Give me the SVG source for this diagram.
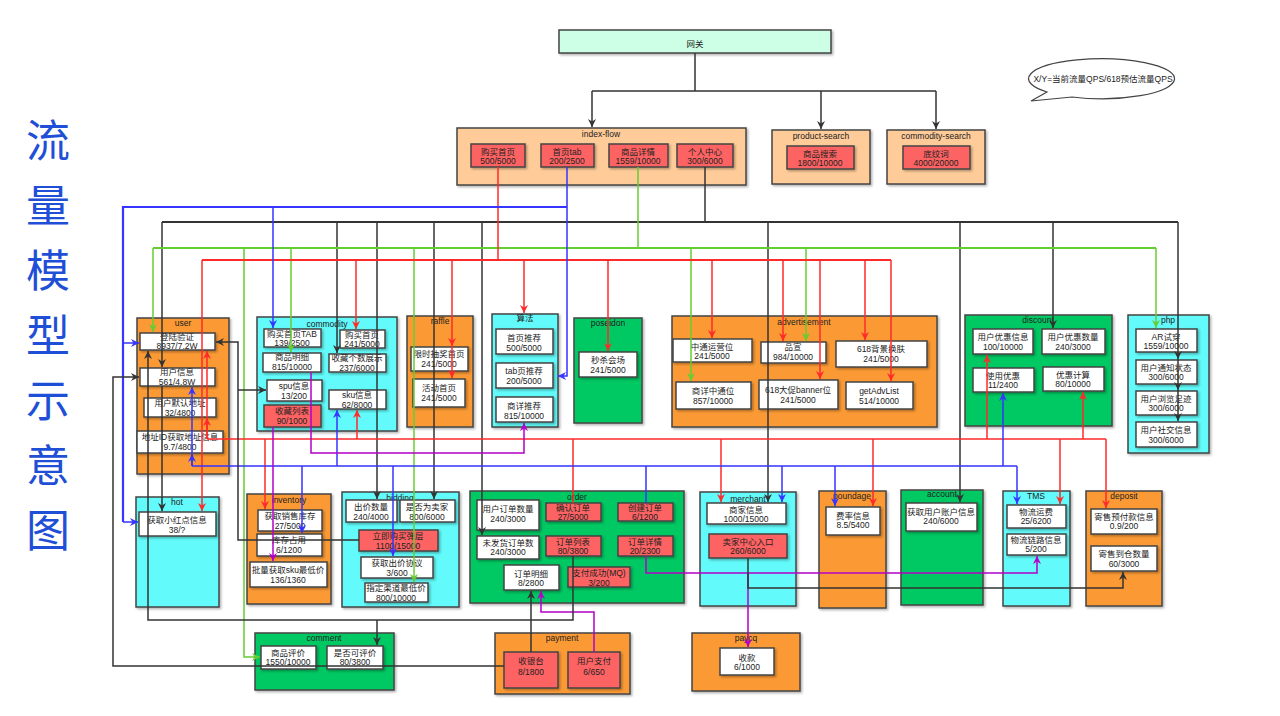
<svg xmlns="http://www.w3.org/2000/svg" width="1280" height="716" viewBox="0 0 1280 716">
<defs>
<style>
text{font-family:"Liberation Sans","Noto Sans CJK SC",sans-serif;fill:#222;text-anchor:middle}
.t{font-size:8.5px}
.lb{font-size:8.5px}
.title{font-family:"Noto Sans CJK SC",sans-serif;font-size:44px;fill:#1f4fd6}
.box{stroke:#444;stroke-width:1.5;filter:url(#sh)}
.peach{fill:#ffcc99}.orange{fill:#fb9a34}.cyan{fill:#62fafa}.green{fill:#06c864}.mint{fill:#ccffe6}
.w{fill:#fff}.red{fill:#fd6464}
.e{fill:none;stroke-width:1.5}
.trunk{stroke-width:2.2}
.k{stroke:#333}.r{stroke:#ff2a2a}.b{stroke:#3535ff}.g{stroke:#66cc33}.p{stroke:#b400c8}
</style>
<filter id="sh" x="-10%" y="-10%" width="130%" height="130%">
<feDropShadow dx="1.5" dy="1.5" stdDeviation="0.8" flood-color="#000" flood-opacity="0.3"/>
</filter>
<marker id="ak" viewBox="0 0 8 8" refX="8" refY="4" markerWidth="8" markerHeight="8" markerUnits="userSpaceOnUse" orient="auto"><path d="M0,0 L8,4 L0,8 L2.5,4 Z" fill="#333"/></marker>
<marker id="ar" viewBox="0 0 8 8" refX="8" refY="4" markerWidth="8" markerHeight="8" markerUnits="userSpaceOnUse" orient="auto"><path d="M0,0 L8,4 L0,8 L2.5,4 Z" fill="#ff2a2a"/></marker>
<marker id="ab" viewBox="0 0 8 8" refX="8" refY="4" markerWidth="8" markerHeight="8" markerUnits="userSpaceOnUse" orient="auto"><path d="M0,0 L8,4 L0,8 L2.5,4 Z" fill="#3535ff"/></marker>
<marker id="ag" viewBox="0 0 8 8" refX="8" refY="4" markerWidth="8" markerHeight="8" markerUnits="userSpaceOnUse" orient="auto"><path d="M0,0 L8,4 L0,8 L2.5,4 Z" fill="#66cc33"/></marker>
<marker id="ap" viewBox="0 0 8 8" refX="8" refY="4" markerWidth="8" markerHeight="8" markerUnits="userSpaceOnUse" orient="auto"><path d="M0,0 L8,4 L0,8 L2.5,4 Z" fill="#b400c8"/></marker>
</defs>
<rect width="1280" height="716" fill="#fff"/>

<!-- vertical title -->
<text class="title" x="48"><tspan x="48" y="157">流</tspan><tspan x="48" y="222">量</tspan><tspan x="48" y="287">模</tspan><tspan x="48" y="352">型</tspan><tspan x="48" y="417">示</tspan><tspan x="48" y="482">意</tspan><tspan x="48" y="547">图</tspan></text>

<!-- legend bubble -->
<g id="legend">
<path d="M1047,92 L1031,101 L1072,97 A73,20 0 1 0 1047,92 Z" fill="#fff" stroke="#444" stroke-width="1.2"/>
<text class="t" x="1103" y="82">X/Y=当前流量QPS/618预估流量QPS</text>
</g>

<g id="gateway"><rect class="box mint" x="559" y="30" width="272" height="23"/><text class="t" x="695" y="47">网关</text></g>

<g id="index-flow"><rect class="box peach" x="457" y="128" width="289" height="57"/><text class="lb" x="601" y="137">index-flow</text>
<rect class="box red" x="471" y="144" width="54" height="23"/><text class="t" x="498" y="155">购买首页</text><text class="t" x="498" y="164">500/5000</text>
<rect class="box red" x="541" y="144" width="53" height="23"/><text class="t" x="567" y="155">首页tab</text><text class="t" x="567" y="164">200/2500</text>
<rect class="box red" x="609" y="144" width="59" height="23"/><text class="t" x="638" y="155">商品详情</text><text class="t" x="638" y="164">1559/10000</text>
<rect class="box red" x="677" y="144" width="56" height="23"/><text class="t" x="705" y="155">个人中心</text><text class="t" x="705" y="164">300/6000</text>
</g>
<g id="product-search"><rect class="box peach" x="772" y="130" width="98" height="54"/><text class="lb" x="821" y="139">product-search</text>
<rect class="box red" x="787" y="146" width="67" height="23"/><text class="t" x="820" y="157">商品搜索</text><text class="t" x="820" y="166">1800/10000</text></g>
<g id="commodity-search"><rect class="box peach" x="887" y="130" width="98" height="54"/><text class="lb" x="936" y="139">commodity-search</text>
<rect class="box red" x="903" y="146" width="67" height="23"/><text class="t" x="936" y="157">底纹词</text><text class="t" x="936" y="166">4000/20000</text></g>

<g id="user"><rect class="box orange" x="137" y="318" width="92" height="156"/><text class="lb" x="183" y="326">user</text>
<rect class="box w" x="140" y="333" width="75" height="17"/><text class="t" x="177" y="340">登陆验证</text><text class="t" x="177" y="349">8937/7.2W</text>
<rect class="box w" x="140" y="368" width="75" height="18"/><text class="t" x="177" y="375">用户信息</text><text class="t" x="177" y="385">561/4.8W</text>
<rect class="box w" x="144" y="398" width="72" height="19"/><text class="t" x="180" y="406">用户默认地址</text><text class="t" x="180" y="416">32/4800</text>
<rect class="box w" x="137" y="431" width="86" height="22"/><text class="t" x="180" y="440">地址ID获取地址信息</text><text class="t" x="180" y="450">9.7/4800</text>
</g>
<g id="hot"><rect class="box cyan" x="136" y="497" width="83" height="110"/><text class="lb" x="177" y="505">hot</text>
<rect class="box w" x="139" y="512" width="77" height="24"/><text class="t" x="177" y="523">获取小红点信息</text><text class="t" x="177" y="533">38/?</text></g>

<g id="commodity"><rect class="box cyan" x="257" y="317" width="140" height="114"/><text class="lb" x="327" y="327">commodity</text>
<rect class="box w" x="264" y="329" width="57" height="18"/><text class="t" x="292" y="337">购买首页TAB</text><text class="t" x="292" y="346">139/2500</text>
<rect class="box w" x="340" y="330" width="45" height="18"/><text class="t" x="362" y="338">购买首页</text><text class="t" x="362" y="347">241/5000</text>
<rect class="box w" x="263" y="353" width="58" height="19"/><text class="t" x="292" y="360">商品明细</text><text class="t" x="292" y="370">815/10000</text>
<rect class="box w" x="329" y="354" width="57" height="18"/><text class="t" x="357" y="361">收藏个数展示</text><text class="t" x="357" y="371">237/6000</text>
<rect class="box w" x="267" y="380" width="55" height="21"/><text class="t" x="294" y="389">spu信息</text><text class="t" x="294" y="399">13/200</text>
<rect class="box w" x="329" y="390" width="57" height="19"/><text class="t" x="357" y="398">sku信息</text><text class="t" x="357" y="408">62/8000</text>
<rect class="box red" x="264" y="405" width="57" height="22"/><text class="t" x="292" y="414">收藏列表</text><text class="t" x="292" y="424">90/1000</text>
</g>
<g id="raffle"><rect class="box orange" x="407" y="316" width="66" height="111"/><text class="lb" x="440" y="324">raffle</text>
<rect class="box w" x="411" y="347" width="57" height="24"/><text class="t" x="439" y="357">限时抽奖首页</text><text class="t" x="439" y="367">241/5000</text>
<rect class="box w" x="413" y="379" width="52" height="28"/><text class="t" x="439" y="391">活动首页</text><text class="t" x="439" y="401">241/5000</text></g>
<g id="algorithm"><rect class="box cyan" x="492" y="314" width="66" height="113"/><text class="lb" x="525" y="321">算法</text>
<rect class="box w" x="496" y="329" width="57" height="25"/><text class="t" x="524" y="341">首页推荐</text><text class="t" x="524" y="351">500/5000</text>
<rect class="box w" x="496" y="363" width="57" height="25"/><text class="t" x="524" y="374">tab页推荐</text><text class="t" x="524" y="384">200/5000</text>
<rect class="box w" x="496" y="397" width="57" height="25"/><text class="t" x="524" y="409">商详推荐</text><text class="t" x="524" y="419">815/10000</text></g>
<g id="poseidon"><rect class="box green" x="574" y="318" width="68" height="105"/><text class="lb" x="608" y="326">poseidon</text>
<rect class="box w" x="579" y="352" width="58" height="25"/><text class="t" x="608" y="363">秒杀会场</text><text class="t" x="608" y="373">241/5000</text></g>
<g id="advertisement"><rect class="box orange" x="672" y="316" width="265" height="111"/><text class="lb" x="804" y="325">advertisement</text>
<rect class="box w" x="673" y="339" width="79" height="23"/><text class="t" x="712" y="350">中通运营位</text><text class="t" x="712" y="359">241/5000</text>
<rect class="box w" x="761" y="342" width="65" height="21"/><text class="t" x="793" y="350">品宣</text><text class="t" x="793" y="360">984/10000</text>
<rect class="box w" x="836" y="341" width="91" height="26"/><text class="t" x="881" y="352">618背景换肤</text><text class="t" x="881" y="362">241/5000</text>
<rect class="box w" x="676" y="382" width="75" height="27"/><text class="t" x="713" y="394">商详中通位</text><text class="t" x="713" y="404">857/10000</text>
<rect class="box w" x="759" y="380" width="79" height="29"/><text class="t" x="798" y="393">618大促banner位</text><text class="t" x="798" y="403">241/5000</text>
<rect class="box w" x="846" y="382" width="67" height="27"/><text class="t" x="879" y="394">getAdvList</text><text class="t" x="879" y="404">514/10000</text></g>
<g id="discount"><rect class="box green" x="965" y="315" width="147" height="111"/><text class="lb" x="1038" y="323">discount</text>
<rect class="box w" x="973" y="329" width="60" height="25"/><text class="t" x="1003" y="340">用户优惠信息</text><text class="t" x="1003" y="350">100/10000</text>
<rect class="box w" x="1042" y="329" width="63" height="25"/><text class="t" x="1073" y="340">用户优惠数量</text><text class="t" x="1073" y="350">240/3000</text>
<rect class="box w" x="973" y="368" width="61" height="24"/><text class="t" x="1003" y="379">使用优惠</text><text class="t" x="1003" y="388">11/2400</text>
<rect class="box w" x="1043" y="367" width="61" height="24"/><text class="t" x="1073" y="378">优惠计算</text><text class="t" x="1073" y="387">80/10000</text></g>
<g id="php"><rect class="box cyan" x="1128" y="315" width="81" height="138"/><text class="lb" x="1168" y="323">php</text>
<rect class="box w" x="1136" y="329" width="61" height="23"/><text class="t" x="1166" y="340">AR试穿</text><text class="t" x="1166" y="349">1559/10000</text>
<rect class="box w" x="1136" y="360" width="61" height="24"/><text class="t" x="1166" y="371">用户通知状态</text><text class="t" x="1166" y="380">300/6000</text>
<rect class="box w" x="1136" y="391" width="61" height="24"/><text class="t" x="1166" y="402">用户浏览足迹</text><text class="t" x="1166" y="411">300/6000</text>
<rect class="box w" x="1136" y="422" width="61" height="25"/><text class="t" x="1166" y="433">用户社交信息</text><text class="t" x="1166" y="443">300/6000</text></g>

<g id="inventory"><rect class="box orange" x="247" y="494" width="84" height="110"/><text class="lb" x="289" y="503">inventory</text>
<rect class="box w" x="258" y="510" width="64" height="21"/><text class="t" x="290" y="519">获取销售库存</text><text class="t" x="290" y="529">27/5000</text>
<rect class="box w" x="257" y="534" width="65" height="22"/><text class="t" x="289" y="543">库存占用</text><text class="t" x="289" y="553">6/1200</text>
<rect class="box w" x="250" y="562" width="77" height="25"/><text class="t" x="288" y="573">批量获取sku最低价</text><text class="t" x="288" y="583">136/1360</text></g>
<g id="bidding"><rect class="box cyan" x="342" y="492" width="117" height="115"/><text class="lb" x="400" y="501">bidding</text>
<rect class="box w" x="346" y="500" width="51" height="22"/><text class="t" x="371" y="510">出价数量</text><text class="t" x="371" y="520">240/4000</text>
<rect class="box w" x="400" y="500" width="55" height="22"/><text class="t" x="427" y="510">是否为卖家</text><text class="t" x="427" y="520">800/6000</text>
<rect class="box red" x="359" y="530" width="79" height="21"/><text class="t" x="398" y="539">立即购买弹层</text><text class="t" x="398" y="549">1100/15000</text>
<rect class="box w" x="361" y="557" width="72" height="21"/><text class="t" x="397" y="566">获取出价协议</text><text class="t" x="397" y="576">3/600</text>
<rect class="box w" x="365" y="583" width="63" height="19"/><text class="t" x="396" y="591">指定渠道最低价</text><text class="t" x="396" y="601">800/10000</text></g>
<g id="order"><rect class="box green" x="470" y="491" width="214" height="112"/><text class="lb" x="577" y="500">order</text>
<rect class="box w" x="477" y="500" width="62" height="30"/><text class="t" x="508" y="512">用户订单数量</text><text class="t" x="508" y="522">240/3000</text>
<rect class="box red" x="546" y="503" width="55" height="18"/><text class="t" x="573" y="511">确认订单</text><text class="t" x="573" y="520">27/5000</text>
<rect class="box red" x="618" y="503" width="55" height="18"/><text class="t" x="645" y="511">创建订单</text><text class="t" x="645" y="520">6/1200</text>
<rect class="box w" x="477" y="536" width="62" height="23"/><text class="t" x="508" y="546">未发货订单数</text><text class="t" x="508" y="555">240/3000</text>
<rect class="box red" x="546" y="536" width="55" height="20"/><text class="t" x="573" y="545">订单列表</text><text class="t" x="573" y="554">80/3800</text>
<rect class="box red" x="618" y="536" width="55" height="20"/><text class="t" x="645" y="545">订单详情</text><text class="t" x="645" y="554">20/2300</text>
<rect class="box w" x="504" y="565" width="55" height="25"/><text class="t" x="531" y="577">订单明细</text><text class="t" x="531" y="586">8/2800</text>
<rect class="box red" x="568" y="567" width="62" height="20"/><text class="t" x="599" y="576">支付成功(MQ)</text><text class="t" x="599" y="586">3/200</text></g>
<g id="merchant"><rect class="box cyan" x="700" y="492" width="96" height="114"/><text class="lb" x="748" y="502">merchant</text>
<rect class="box w" x="707" y="503" width="79" height="21"/><text class="t" x="746" y="513">商家信息</text><text class="t" x="746" y="522">1000/15000</text>
<rect class="box red" x="709" y="534" width="78" height="24"/><text class="t" x="748" y="545">卖家中心入口</text><text class="t" x="748" y="554">260/6000</text></g>
<g id="poundage"><rect class="box orange" x="819" y="491" width="67" height="117"/><text class="lb" x="852" y="499">poundage</text>
<rect class="box w" x="826" y="507" width="54" height="28"/><text class="t" x="853" y="519">费率信息</text><text class="t" x="853" y="528">8.5/5400</text></g>
<g id="account"><rect class="box green" x="901" y="490" width="82" height="115"/><text class="lb" x="942" y="497">account</text>
<rect class="box w" x="906" y="503" width="71" height="28"/><text class="t" x="941" y="515">获取用户账户信息</text><text class="t" x="941" y="524">240/6000</text></g>
<g id="tms"><rect class="box cyan" x="1003" y="491" width="67" height="115"/><text class="lb" x="1036" y="499">TMS</text>
<rect class="box w" x="1007" y="505" width="59" height="23"/><text class="t" x="1036" y="515">物流运费</text><text class="t" x="1036" y="524">25/6200</text>
<rect class="box w" x="1007" y="534" width="59" height="21"/><text class="t" x="1036" y="543">物流链路信息</text><text class="t" x="1036" y="552">5/200</text></g>
<g id="deposit"><rect class="box orange" x="1086" y="491" width="76" height="115"/><text class="lb" x="1124" y="499">deposit</text>
<rect class="box w" x="1091" y="509" width="66" height="25"/><text class="t" x="1124" y="520">寄售预付款信息</text><text class="t" x="1124" y="529">0.9/200</text>
<rect class="box w" x="1091" y="546" width="66" height="25"/><text class="t" x="1124" y="557">寄售到仓数量</text><text class="t" x="1124" y="567">60/3000</text></g>

<g id="comment"><rect class="box green" x="255" y="633" width="139" height="57"/><text class="lb" x="324" y="641">comment</text>
<rect class="box w" x="261" y="646" width="55" height="23"/><text class="t" x="288" y="656">商品评价</text><text class="t" x="288" y="665">1550/10000</text>
<rect class="box w" x="327" y="646" width="56" height="23"/><text class="t" x="355" y="656">是否可评价</text><text class="t" x="355" y="665">80/3800</text></g>
<g id="payment"><rect class="box orange" x="495" y="633" width="135" height="61"/><text class="lb" x="562" y="641">payment</text>
<rect class="box red" x="504" y="652" width="54" height="36"/><text class="t" x="531" y="664">收银台</text><text class="t" x="531" y="675">8/1800</text>
<rect class="box red" x="568" y="652" width="52" height="36"/><text class="t" x="594" y="664">用户支付</text><text class="t" x="594" y="675">6/650</text></g>
<g id="paycq"><rect class="box orange" x="692" y="633" width="108" height="58"/><text class="lb" x="746" y="641">paycq</text>
<rect class="box w" x="720" y="648" width="54" height="27"/><text class="t" x="747" y="661">收款</text><text class="t" x="747" y="670">6/1000</text></g>

<g id="connectors">
<!-- gateway fan-out -->
<path class="e k" d="M695,53 V91 M592,91 H936"/>
<path class="e k" d="M592,91 V127" marker-end="url(#ak)"/>
<path class="e k" d="M821,91 V129" marker-end="url(#ak)"/>
<path class="e k" d="M936,91 V129" marker-end="url(#ak)"/>

<!-- 个人中心 trunk -->
<path class="e k" d="M705,167 V222"/>
<path class="e k trunk" d="M162,222 H1178"/>
<path class="e k" d="M162,222 V367" marker-end="url(#ak)"/>
<path class="e k" d="M162,386 V511" marker-end="url(#ak)"/>
<path class="e k" d="M337,222 V353" marker-end="url(#ak)"/>
<path class="e k" d="M377,222 V499" marker-end="url(#ak)"/>
<path class="e k" d="M434,222 V499" marker-end="url(#ak)"/>
<path class="e k" d="M482,222 V535" marker-end="url(#ak)"/>
<path class="e k" d="M768,222 V502" marker-end="url(#ak)"/>
<path class="e k" d="M960,222 V502" marker-end="url(#ak)"/>
<path class="e k" d="M1053,222 V328" marker-end="url(#ak)"/>
<path class="e k" d="M1178,222 V359" marker-end="url(#ak)"/>
<path class="e k" d="M1178,359 V390" marker-end="url(#ak)"/>
<path class="e k" d="M1178,390 V421" marker-end="url(#ak)"/>

<!-- 商品详情 trunk -->
<path class="e g" d="M638,167 V248"/>
<path class="e g trunk" d="M153,248 H1156"/>
<path class="e g" d="M153,248 V332" marker-end="url(#ag)"/>
<path class="e g" d="M244,248 V657 H260" marker-end="url(#ag)"/>
<path class="e g" d="M291,248 V352" marker-end="url(#ag)"/>
<path class="e g" d="M414,248 V582" marker-end="url(#ag)"/>
<path class="e g" d="M691,248 V381" marker-end="url(#ag)"/>
<path class="e g" d="M806,248 V341" marker-end="url(#ag)"/>
<path class="e g" d="M1156,248 V328" marker-end="url(#ag)"/>

<!-- 购买首页 trunk -->
<path class="e r" d="M498,167 V260"/>
<path class="e r trunk" d="M202,260 H891"/>
<path class="e r" d="M202,260 V511" marker-end="url(#ar)"/>
<path class="e r" d="M356,260 V329" marker-end="url(#ar)"/>
<path class="e r" d="M452,260 V346" marker-end="url(#ar)"/>
<path class="e r" d="M452,346 V378" marker-end="url(#ar)"/>
<path class="e r" d="M524,260 V313" marker-end="url(#ar)"/>
<path class="e r" d="M608,260 V351" marker-end="url(#ar)"/>
<path class="e r" d="M712,260 V338" marker-end="url(#ar)"/>
<path class="e r" d="M783,260 V341" marker-end="url(#ar)"/>
<path class="e r" d="M820,260 V379" marker-end="url(#ar)"/>
<path class="e r" d="M865,260 V340" marker-end="url(#ar)"/>
<path class="e r" d="M891,260 V381" marker-end="url(#ar)"/>

<!-- 首页tab trunk -->
<path class="e b" d="M567,167 V376 H558" marker-end="url(#ab)"/>
<path class="e b trunk" d="M567,207 H123 V522"/>
<path class="e b" d="M123,343 H139" marker-end="url(#ab)"/>
<path class="e b" d="M123,522 H138" marker-end="url(#ab)"/>
<path class="e b" d="M273,207 V328" marker-end="url(#ab)"/>

<!-- 确认订单 fan-out -->
<path class="e r" d="M573,503 V439 M207,439 H1106"/>
<path class="e r" d="M207,439 V351" marker-end="url(#ar)"/>
<path class="e r" d="M207,439 V418" marker-end="url(#ar)"/>
<path class="e r" d="M265,439 V509" marker-end="url(#ar)"/>
<path class="e r" d="M357,439 V410" marker-end="url(#ar)"/>
<path class="e r" d="M721,439 V502" marker-end="url(#ar)"/>
<path class="e r" d="M873,439 V506" marker-end="url(#ar)"/>
<path class="e r" d="M987,439 V355" marker-end="url(#ar)"/>
<path class="e r" d="M1060,439 V504" marker-end="url(#ar)"/>
<path class="e r" d="M1083,439 V392" marker-end="url(#ar)"/>
<path class="e r" d="M1106,439 V508" marker-end="url(#ar)"/>

<!-- 创建订单 fan-out -->
<path class="e b" d="M646,503 V466 M192,466 H1017"/>
<path class="e b" d="M192,466 V387" marker-end="url(#ab)"/>
<path class="e b" d="M192,466 V454" marker-end="url(#ab)"/>
<path class="e b" d="M302,466 V533" marker-end="url(#ab)"/>
<path class="e b" d="M337,466 V410" marker-end="url(#ab)"/>
<path class="e b" d="M393,466 V556" marker-end="url(#ab)"/>
<path class="e b" d="M782,466 V502" marker-end="url(#ab)"/>
<path class="e b" d="M835,466 V506" marker-end="url(#ab)"/>
<path class="e b" d="M1003,466 V393" marker-end="url(#ab)"/>
<path class="e b" d="M1017,466 V504" marker-end="url(#ab)"/>

<!-- purple links -->
<path class="e p" d="M311,372 V453 H524 V423" marker-end="url(#ap)"/>
<path class="e p" d="M273,427 V561" marker-end="url(#ap)"/>
<path class="e p" d="M646,556 V573 H1037 V556" marker-end="url(#ap)"/>
<path class="e p" d="M748,573 V647" marker-end="url(#ap)"/>
<path class="e p" d="M594,652 V612 H541 V591" marker-end="url(#ap)"/>

<!-- black links -->
<path class="e k" d="M531,652 V591" marker-end="url(#ak)"/>
<path class="e k" d="M504,666 H113 V377 H139" marker-end="url(#ak)"/>
<path class="e k" d="M573,556 V620 H148 V351" marker-end="url(#ak)"/>
<path class="e k" d="M377,620 V645" marker-end="url(#ak)"/>
<path class="e k" d="M359,540 H238 V342 H216" marker-end="url(#ak)"/>
<path class="e k" d="M238,390 H266" marker-end="url(#ak)"/>
<path class="e k" d="M748,558 V588 H1123 V572" marker-end="url(#ak)"/>
</g>
</svg>
